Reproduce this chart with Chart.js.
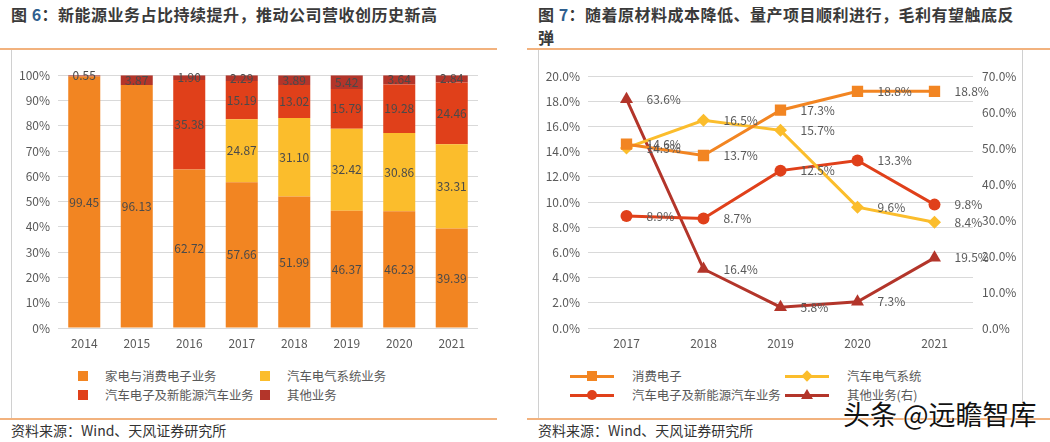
<!DOCTYPE html>
<html><head><meta charset="utf-8">
<script src="https://cdn.jsdelivr.net/npm/chart.js@4"></script>
<style>
html,body{margin:0;padding:0;background:#fff;}
body{width:1050px;height:442px;position:relative;overflow:hidden;font-family:"Noto Sans CJK SC","Noto Sans",sans-serif;}
.abs{position:absolute;}
.title{font-weight:bold;font-size:16px;color:#3a3a3a;line-height:23px;white-space:nowrap;letter-spacing:0.5px;}
.num{color:#2f5f8f;}
.hl{height:2px;background:#f2b27e;}
.vl{width:1px;background:#d0d0d0;}
.src{font-size:14px;color:#333;white-space:nowrap;line-height:18px;}
.lg{font-size:12.4px;color:#595959;white-space:nowrap;line-height:16px;}
.sq{width:10px;height:10px;}
</style></head><body>
<div class="abs title" style="left:11px;top:3px;">图 <span class="num">6</span>：新能源业务占比持续提升，推动公司营收创历史新高</div>
<div class="abs title" style="left:538px;top:3px;">图 <span class="num">7</span>：随着原材料成本降低、量产项目顺利进行，毛利有望触底反<br>弹</div>
<div class="abs hl" style="left:0;top:48px;width:497px;"></div>
<div class="abs hl" style="left:527px;top:48px;width:523px;"></div>
<div class="abs vl" style="left:11px;top:50px;height:369px;"></div>
<div class="abs vl" style="left:538px;top:50px;height:369px;"></div>
<div class="abs vl" style="left:1022px;top:50px;height:369px;"></div>
<div class="abs hl" style="left:0;top:418px;width:497px;height:1.5px;"></div>
<div class="abs hl" style="left:527px;top:418px;width:523px;height:1.5px;"></div>
<div class="abs src" style="left:11px;top:421px;">资料来源：Wind、天风证券研究所</div>
<div class="abs src" style="left:538px;top:421px;">资料来源：Wind、天风证券研究所</div>

<div class="abs" style="left:0;top:60px;width:490px;height:300px;"><canvas id="c1" width="490" height="300"></canvas></div>
<div class="abs" style="left:525px;top:60px;width:525px;height:300px;"><canvas id="c2" width="525" height="300"></canvas></div>

<div id="lg1"></div>
<div id="lg2"></div>
<div class="abs" style="left:843px;top:398px;font-size:27px;color:#111;font-weight:400;white-space:nowrap;line-height:32px;text-shadow:0 0 2px #fff,0 0 2px #fff;">头条 @远瞻智库</div>

<script>
// ---------- Data: chart 1 (stacked bar, %) ----------
const years1 = ['2014','2015','2016','2017','2018','2019','2020','2021'];
const homeConsumer = [99.45, 96.13, 62.72, 57.66, 51.99, 46.37, 46.23, 39.39];
const autoElectric = [null, null, null, 24.87, 31.10, 32.42, 30.86, 33.31];
const autoElecNEV = [null, null, 35.38, 15.19, 13.02, 15.79, 19.28, 24.46];
const otherBiz1 = [0.55, 3.87, 1.90, 2.29, 3.89, 5.42, 3.64, 2.84];
const names1 = ['家电与消费电子业务','汽车电气系统业务','汽车电子及新能源汽车业务','其他业务'];
const yTicks1 = [0,10,20,30,40,50,60,70,80,90,100];

// ---------- Data: chart 2 (gross margin lines, %) ----------
const years2 = ['2017','2018','2019','2020','2021'];
const consumerElec = [14.6, 13.7, 17.3, 18.8, 18.8];
const autoElecSys = [14.3, 16.5, 15.7, 9.6, 8.4];
const autoNEV = [8.9, 8.7, 12.5, 13.3, 9.8];
const otherRight = [63.6, 16.4, 5.8, 7.3, 19.5];
const names2 = ['消费电子','汽车电气系统','汽车电子及新能源汽车业务','其他业务(右)'];

const C_OR = '#F28522', C_YE = '#FBBD2C', C_RD = '#E0401A', C_DR = '#B3352A';
const FONT = '"Noto Sans CJK SC","Noto Sans",sans-serif';
const TICK = '#595959', GRID = '#d9d9d9';

// ---------- Legends ----------
function sqLegend(){
  const items = [[C_OR,names1[0],83,376],[C_YE,names1[1],265,376],[C_RD,names1[2],83,395],[C_DR,names1[3],265,395]];
  let h='';
  for(const [c,t,x,y] of items){
    h += `<div class="abs sq" style="left:${x-5}px;top:${y-5}px;background:${c}"></div>`;
    h += `<div class="abs lg" style="left:${x+22}px;top:${y-8}px;">${t}</div>`;
  }
  document.getElementById('lg1').innerHTML=h;
}
function lineLegend(){
  const items = [[C_OR,names2[0],592,376,'sq'],[C_YE,names2[1],807,376,'dia'],[C_RD,names2[2],592,395,'cir'],[C_DR,names2[3],807,395,'tri']];
  let h='';
  for(const [c,t,x,y,m] of items){
    h += `<div class="abs" style="left:${x-22}px;top:${y-1.5}px;width:44px;height:3px;background:${c}"></div>`;
    if(m==='sq') h += `<div class="abs" style="left:${x-5}px;top:${y-5}px;width:10px;height:10px;background:${c}"></div>`;
    if(m==='cir') h += `<div class="abs" style="left:${x-5}px;top:${y-5}px;width:10px;height:10px;border-radius:50%;background:${c}"></div>`;
    if(m==='dia') h += `<div class="abs" style="left:${x-4}px;top:${y-4}px;width:8px;height:8px;transform:rotate(45deg);background:${c}"></div>`;
    if(m==='tri') h += `<div class="abs" style="left:${x-6}px;top:${y-6}px;width:0;height:0;border-left:6px solid transparent;border-right:6px solid transparent;border-bottom:10px solid ${c}"></div>`;
    h += `<div class="abs lg" style="left:${x+40}px;top:${y-8}px;">${t}</div>`;
  }
  document.getElementById('lg2').innerHTML=h;
}
sqLegend(); lineLegend();

// ---------- Label plugins ----------
const barLabels = {
  id:'barLabels',
  afterDatasetsDraw(chart){
    const ctx = chart.ctx;
    ctx.save();
    ctx.font = '12px '+FONT; ctx.fillStyle = '#4a4a4a';
    ctx.textAlign='center'; ctx.textBaseline='middle';
    chart.data.datasets.forEach((ds,i)=>{
      const meta = chart.getDatasetMeta(i);
      meta.data.forEach((el,j)=>{
        const v = ds.data[j];
        if(v==null) return;
        const p = el.getProps(['x','y','base'],true);
        ctx.fillText(v.toFixed(2), p.x, (p.y+p.base)/2);
      });
    });
    ctx.restore();
  }
};
const lineLabels = {
  id:'lineLabels',
  afterDatasetsDraw(chart){
    const ctx = chart.ctx;
    ctx.save();
    ctx.font = '12px '+FONT; ctx.fillStyle = '#595959';
    ctx.textAlign='left'; ctx.textBaseline='middle';
    chart.data.datasets.forEach((ds,i)=>{
      const meta = chart.getDatasetMeta(i);
      meta.data.forEach((el,j)=>{
        const v = ds.data[j];
        ctx.fillText(v.toFixed(1)+'%', el.x+20, el.y);
      });
    });
    ctx.restore();
  }
};

// ---------- Chart 1 ----------
new Chart(document.getElementById('c1'), {
  type:'bar',
  data:{ labels: years1, datasets:[
    {label:names1[0], data:homeConsumer, backgroundColor:C_OR},
    {label:names1[1], data:autoElectric, backgroundColor:C_YE},
    {label:names1[2], data:autoElecNEV, backgroundColor:C_RD},
    {label:names1[3], data:otherBiz1, backgroundColor:C_DR}
  ]},
  options:{
    responsive:false, animation:false, devicePixelRatio:1,
    layout:{padding:{left:0,right:12,top:14,bottom:0}},
    datasets:{bar:{categoryPercentage:1, barPercentage:0.61}},
    plugins:{legend:{display:false}, tooltip:{enabled:false}},
    scales:{
      x:{stacked:true, grid:{display:false, drawTicks:false}, border:{display:false},
         ticks:{color:TICK, font:{family:FONT,size:12}, padding:8},
         afterFit(s){s.height=32;}},
      y:{stacked:true, min:0, max:100, grid:{color:GRID, drawTicks:false}, border:{display:false},
         afterBuildTicks(s){s.ticks = yTicks1.map(v=>({value:v}));},
         ticks:{color:TICK, font:{family:FONT,size:12}, padding:8, callback:v=>v+'%'},
         afterFit(s){s.width=58;}}
    }
  },
  plugins:[barLabels]
});

// ---------- Chart 2 ----------
new Chart(document.getElementById('c2'), {
  type:'line',
  data:{ labels: years2, datasets:[
    {label:names2[0], data:consumerElec, borderColor:C_OR, backgroundColor:C_OR, pointStyle:'rect', pointRadius:8, yAxisID:'y'},
    {label:names2[1], data:autoElecSys, borderColor:C_YE, backgroundColor:C_YE, pointStyle:'rectRot', pointRadius:6.5, yAxisID:'y'},
    {label:names2[2], data:autoNEV, borderColor:C_RD, backgroundColor:C_RD, pointStyle:'circle', pointRadius:6, yAxisID:'y'},
    {label:names2[3], data:otherRight, borderColor:C_DR, backgroundColor:C_DR, pointStyle:'triangle', pointRadius:7.5, yAxisID:'y1'}
  ]},
  options:{
    responsive:false, animation:false, devicePixelRatio:1,
    layout:{padding:{left:0,right:0,top:13,bottom:0}},
    elements:{line:{borderWidth:3, tension:0}, point:{borderWidth:0}},
    plugins:{legend:{display:false}, tooltip:{enabled:false}},
    scales:{
      x:{offset:true, grid:{display:false, drawTicks:false}, border:{display:false},
         ticks:{color:TICK, font:{family:FONT,size:12}, padding:8},
         afterFit(s){s.height=32;}},
      y:{position:'left', min:0, max:20, grid:{color:GRID, drawTicks:false}, border:{display:false},
         ticks:{stepSize:2, color:TICK, font:{family:FONT,size:12}, padding:8, callback:v=>v.toFixed(1)+'%'},
         afterFit(s){s.width=63;}},
      y1:{position:'right', min:0, max:70, grid:{display:false, drawTicks:false}, border:{display:false},
         ticks:{stepSize:10, color:TICK, font:{family:FONT,size:12}, padding:9, callback:v=>v.toFixed(1)+'%'},
         afterFit(s){s.width=77;}}
    }
  },
  plugins:[lineLabels]
});
</script>
</body></html>
